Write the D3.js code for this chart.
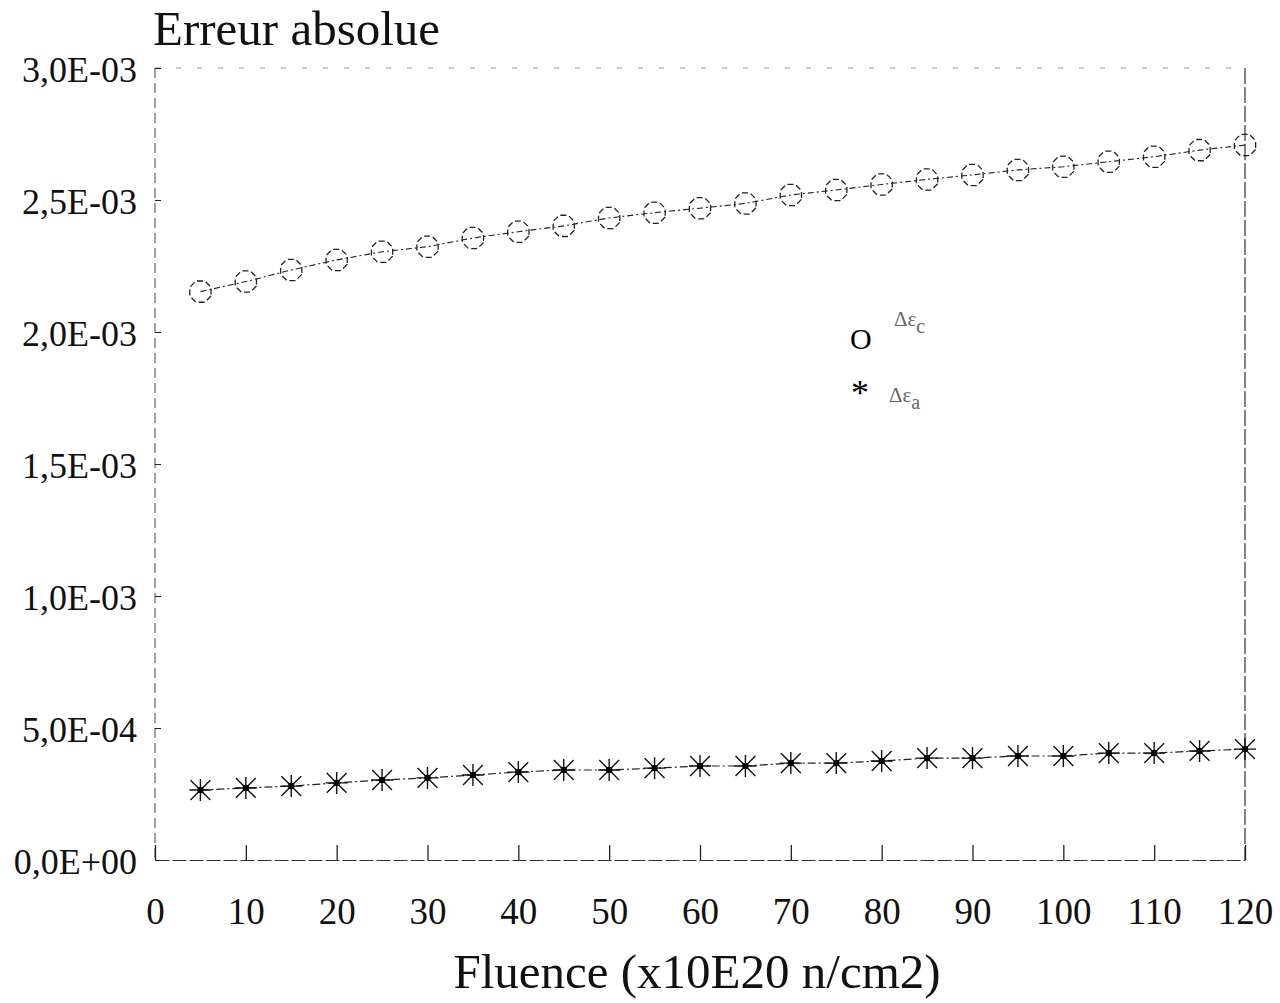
<!DOCTYPE html>
<html><head><meta charset="utf-8">
<script src="https://cdn.jsdelivr.net/npm/d3@7"></script>
<style>body{margin:0;background:#fff}svg{display:block}</style>
</head><body>
<script>
const fluence = [5,10,15,20,25,30,35,40,45,50,55,60,65,70,75,80,85,90,95,100,105,110,115,120];
const errC = [2.153e-3,2.191e-3,2.235e-3,2.273e-3,2.304e-3,2.323e-3,2.356e-3,2.380e-3,2.402e-3,2.432e-3,2.452e-3,2.469e-3,2.487e-3,2.519e-3,2.538e-3,2.559e-3,2.578e-3,2.595e-3,2.614e-3,2.626e-3,2.645e-3,2.664e-3,2.689e-3,2.708e-3];
const errA = [0.265e-3,0.273e-3,0.280e-3,0.292e-3,0.303e-3,0.311e-3,0.322e-3,0.333e-3,0.341e-3,0.341e-3,0.348e-3,0.356e-3,0.356e-3,0.367e-3,0.367e-3,0.375e-3,0.386e-3,0.386e-3,0.394e-3,0.394e-3,0.405e-3,0.405e-3,0.413e-3,0.420e-3];
const xTicks = [0,10,20,30,40,50,60,70,80,90,100,110,120];
const yTicks = [0,5e-4,1e-3,1.5e-3,2e-3,2.5e-3,3e-3];
const yTickLabels = ["0,0E+00","5,0E-04","1,0E-03","1,5E-03","2,0E-03","2,5E-03","3,0E-03"];

const W=1280,H=1003;
const svg=d3.select("body").append("svg").attr("width",W).attr("height",H);
const x=d3.scaleLinear().domain([0,120]).range([155,1245]);
const y=d3.scaleLinear().domain([0,3e-3]).range([860,68]);
const font="'Liberation Serif','Times New Roman',serif";

// frame
const g=svg.append("g");
g.append("line").attr("x1",155).attr("x2",1245).attr("y1",68).attr("y2",68).attr("stroke","#999").attr("stroke-width",1).attr("stroke-dasharray","5,16");
g.append("line").attr("x1",155).attr("x2",155).attr("y1",68).attr("y2",860).attr("stroke","#444").attr("stroke-width",1).attr("stroke-dasharray","10,5");
g.append("line").attr("x1",1245).attr("x2",1245).attr("y1",68).attr("y2",860).attr("stroke","#333").attr("stroke-width",1.2).attr("stroke-dasharray","16,3");

// axes
const xAxis=d3.axisBottom(x).tickValues(xTicks).tickSizeInner(-15).tickSizeOuter(0).tickPadding(38);
const gx=svg.append("g").attr("transform","translate(0,860)").call(xAxis);
gx.select(".domain").attr("stroke","#333").attr("stroke-dasharray","14,3");
gx.selectAll(".tick line").attr("stroke","#222").attr("stroke-width",1.3);
gx.selectAll(".tick text").attr("font-family",font).attr("font-size",37).attr("fill","#111");

const yAxis=d3.axisLeft(y).tickValues(yTicks).tickFormat((d,i)=>yTickLabels[i]).tickSizeInner(-6).tickSizeOuter(0).tickPadding(18);
const gy=svg.append("g").attr("transform","translate(155,0)").call(yAxis);
gy.select(".domain").remove();
gy.selectAll(".tick line").attr("stroke","#222");
gy.selectAll(".tick text").attr("font-family",font).attr("font-size",36).attr("fill","#111").attr("dy","0.38em");

// title and x label
svg.append("text").attr("x",153).attr("y",45).attr("font-family",font).attr("font-size",49).attr("fill","#111").text("Erreur absolue");
svg.append("text").attr("x",697).attr("y",988).attr("text-anchor","middle").attr("font-family",font).attr("font-size",49).attr("fill","#111").text("Fluence (x10E20 n/cm2)");

// lines
const line=d3.line().x((d,i)=>x(fluence[i])).y(d=>y(d));
svg.append("path").datum(errC).attr("d",line).attr("fill","none").attr("stroke","#222").attr("stroke-width",1.1).attr("stroke-dasharray","6,3,2,3");
svg.append("path").datum(errA).attr("d",line).attr("fill","none").attr("stroke","#222").attr("stroke-width",1.2).attr("stroke-dasharray","8,3,2,3");

// octagon markers
const oct=d3.range(8).map(k=>{const a=Math.PI/8+k*Math.PI/4;return [11.5*Math.cos(a),11.5*Math.sin(a)];});
svg.append("g").selectAll("path").data(errC).join("path")
  .attr("transform",(d,i)=>`translate(${x(fluence[i])},${y(d)})`)
  .attr("d","M"+oct.map(p=>p.join(",")).join("L")+"Z")
  .attr("fill","none").attr("stroke","#222").attr("stroke-width",1.3).attr("stroke-dasharray","6,3");

// asterisk markers
const star=d3.range(8).map(k=>{const a=k*Math.PI/4;const r=(k%2===0)?11:14;return `M0,0L${(r*Math.cos(a)).toFixed(2)},${(r*Math.sin(a)).toFixed(2)}`;}).join("");
const ga=svg.append("g").selectAll("g").data(errA).join("g")
  .attr("transform",(d,i)=>`translate(${x(fluence[i])},${y(d)})`);
ga.append("path").attr("d",star).attr("stroke","#111").attr("stroke-width",1.4).attr("fill","none");
ga.append("rect").attr("x",-3).attr("y",-3).attr("width",6).attr("height",6).attr("fill","#000");

// legend
svg.append("text").attr("x",850).attr("y",349).attr("font-family",font).attr("font-size",30).attr("fill","#000").text("O");
const l1=svg.append("text").attr("x",894).attr("y",326).attr("font-family",font).attr("font-size",21).attr("fill","#666");
l1.append("tspan").text("\u0394\u03b5");
l1.append("tspan").attr("dy",7).attr("font-size",20).text("c");
svg.append("text").attr("x",851).attr("y",405).attr("font-family",font).attr("font-size",36).attr("fill","#000").text("*");
const l2=svg.append("text").attr("x",889).attr("y",402).attr("font-family",font).attr("font-size",21).attr("fill","#666");
l2.append("tspan").text("\u0394\u03b5");
l2.append("tspan").attr("dy",7).attr("font-size",20).text("a");
</script>
</body></html>
